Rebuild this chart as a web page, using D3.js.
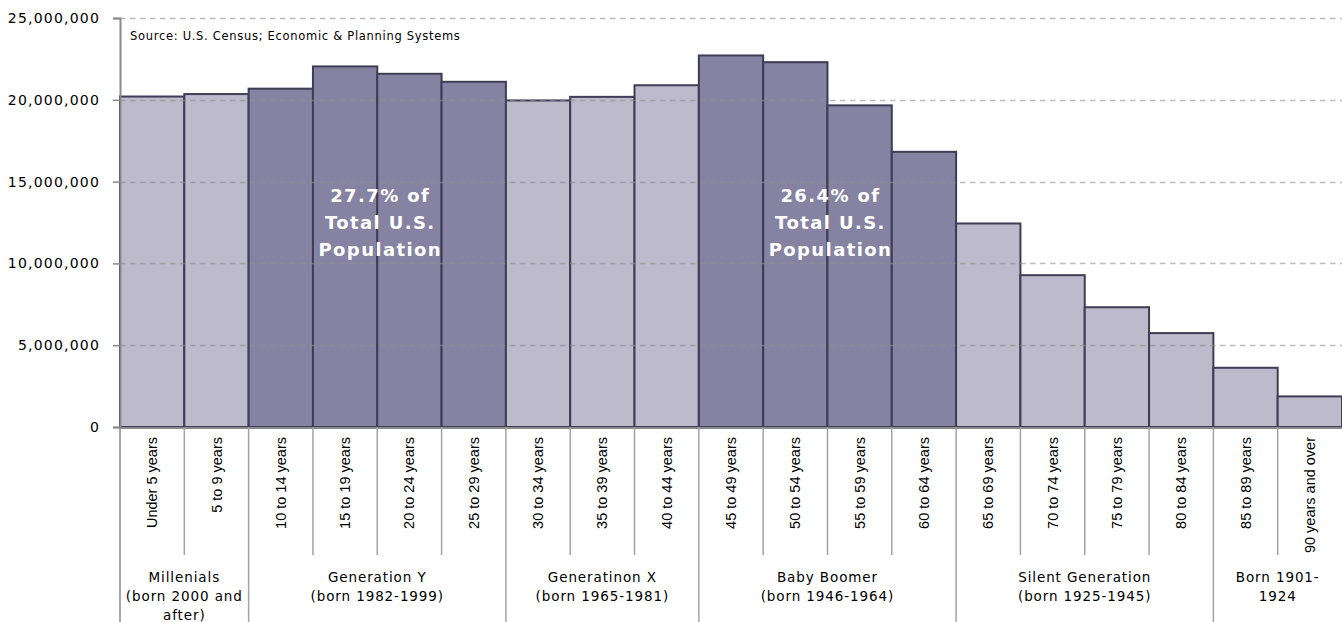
<!DOCTYPE html>
<html>
<head>
<meta charset="utf-8">
<script src="https://cdn.jsdelivr.net/npm/d3@7"></script>
<style>
  body { margin: 0; background: #fff; }
  svg { display: block; }
</style>
</head>
<body>
<svg></svg>
<script>
const svgWidth = 1342
const svgHeight = 622
const margins = { top: 18, left: 120, right: 0 }
const axisY = 427 // zero line

// age groups and population (US Census 2010)
const ageGroups = ["Under 5 years", "5 to 9 years", "10 to 14 years", "15 to 19 years", "20 to 24 years",
    "25 to 29 years", "30 to 34 years", "35 to 39 years", "40 to 44 years", "45 to 49 years",
    "50 to 54 years", "55 to 59 years", "60 to 64 years", "65 to 69 years", "70 to 74 years",
    "75 to 79 years", "80 to 84 years", "85 to 89 years", "90 years and over"]
const population = [20200000, 20350000, 20680000, 22040000, 21590000, 21100000, 19960000, 20180000,
    20890000, 22710000, 22300000, 19660000, 16820000, 12440000, 9280000, 7320000, 5740000,
    3620000, 1870000]
const highlighted = ["10 to 14 years", "15 to 19 years", "20 to 24 years", "25 to 29 years",
    "45 to 49 years", "50 to 54 years", "55 to 59 years", "60 to 64 years"]

// generations: label lines, first and last age group
const generationNames = [
    ["Millenials", "(born 2000 and", "after)"],
    ["Generation Y", "(born 1982-1999)"],
    ["Generatinon X", "(born 1965-1981)"],
    ["Baby Boomer", "(born 1946-1964)"],
    ["Silent Generation", "(born 1925-1945)"],
    ["Born 1901-", "1924"]
]
const generationStart = ["Under 5 years", "10 to 14 years", "30 to 34 years", "45 to 49 years", "65 to 69 years", "85 to 89 years"]
const generationEnd = ["5 to 9 years", "25 to 29 years", "40 to 44 years", "60 to 64 years", "80 to 84 years", "90 years and over"]

// share notes, placed between two age groups
const notes = [["27.7% of", "Total U.S.", "Population"], ["26.4% of", "Total U.S.", "Population"]]
const notesAt = ["20 to 24 years", "55 to 59 years"]

const yTicks = [0, 5000000, 10000000, 15000000, 20000000, 25000000]

const lightFill = "#bdbacc"
const darkFill = "#8683a2"
const barStroke = "#3f3c55"
const axisColor = "#8a8a8a"

const svg = d3.select("svg")
    .attr("width", svgWidth)
    .attr("height", svgHeight)

const xScale = d3.scaleBand()
    .domain(ageGroups)
    .range([margins.left, svgWidth - margins.right])
    .padding(0)

const yScale = d3.scaleLinear()
    .domain([0, 25000000])
    .range([axisY, margins.top])

// bars
svg.append("g")
    .selectAll("rect")
    .data(ageGroups)
    .join("rect")
    .attr("x", (d) => xScale(d))
    .attr("y", (d, i) => yScale(population[i]))
    .attr("width", xScale.bandwidth())
    .attr("height", (d, i) => axisY - yScale(population[i]))
    .attr("fill", (d) => highlighted.includes(d) ? darkFill : lightFill)
    .attr("stroke", barStroke)
    .attr("stroke-width", 2)

// dashed gridlines over the bars
svg.append("g")
    .selectAll("line")
    .data(yTicks.filter((d) => d > 0))
    .join("line")
    .attr("x1", margins.left)
    .attr("x2", svgWidth)
    .attr("y1", (d) => Math.round(yScale(d)) + 0.5)
    .attr("y2", (d) => Math.round(yScale(d)) + 0.5)
    .attr("stroke", "#8e8e8e")
    .attr("stroke-opacity", 0.6)
    .attr("stroke-width", 1.5)
    .attr("stroke-dasharray", "5.5,4.5")

// y axis
const yAxis = svg.append("g")
    .attr("transform", `translate(${margins.left},0)`)
    .call(d3.axisLeft(yScale).tickValues(yTicks).tickSize(7).tickPadding(13)
        .tickFormat(d3.format(",")))
yAxis.select(".domain").attr("stroke", axisColor).attr("stroke-width", 2)
yAxis.selectAll(".tick line").attr("stroke", axisColor).attr("stroke-width", 1.5)
yAxis.selectAll(".tick text")
    .attr("font-family", "'DejaVu Sans', Verdana, sans-serif")
    .attr("font-size", 14)
    .attr("letter-spacing", 1.2)
    .attr("fill", "#000")

// left edge continues under the axis
svg.append("line")
    .attr("x1", margins.left).attr("x2", margins.left)
    .attr("y1", axisY).attr("y2", svgHeight)
    .attr("stroke", axisColor).attr("stroke-width", 1.5)

// bottom axis line
svg.append("line")
    .attr("x1", margins.left).attr("x2", svgWidth)
    .attr("y1", axisY + 1).attr("y2", axisY + 1)
    .attr("stroke", axisColor).attr("stroke-width", 2)

// separators between age groups
svg.append("g")
    .selectAll("line")
    .data(ageGroups.slice(0, -1))
    .join("line")
    .attr("x1", (d) => xScale(d) + xScale.bandwidth())
    .attr("x2", (d) => xScale(d) + xScale.bandwidth())
    .attr("y1", axisY)
    .attr("y2", (d) => generationEnd.includes(d) ? svgHeight : 555)
    .attr("stroke", "#a3a3a3")
    .attr("stroke-width", 1.5)

// rotated age labels
svg.append("g")
    .selectAll("text")
    .data(ageGroups)
    .join("text")
    .attr("transform", (d) => `translate(${xScale(d) + xScale.bandwidth() / 2},437) rotate(-90)`)
    .attr("dy", "0.35em")
    .attr("text-anchor", "end")
    .attr("font-family", "'Liberation Sans Narrow', 'Arial Narrow', sans-serif")
    .attr("font-size", 14.5)
    .attr("fill", "#000")
    .text((d) => d)

// generation labels
const genText = svg.append("g")
    .selectAll("text")
    .data(generationNames)
    .join("text")
    .attr("x", (d, i) => (xScale(generationStart[i]) + xScale(generationEnd[i]) + xScale.bandwidth()) / 2)
    .attr("y", 582)
    .attr("text-anchor", "middle")
    .attr("font-family", "'DejaVu Sans', Verdana, sans-serif")
    .attr("font-size", 13.5)
    .attr("letter-spacing", 0.9)
    .attr("fill", "#000")
genText.selectAll("tspan")
    .data((d) => d)
    .join("tspan")
    .attr("x", function () { return this.parentNode.getAttribute("x") })
    .attr("dy", (d, i) => i === 0 ? 0 : 19)
    .text((d) => d)

// share notes
const noteText = svg.append("g")
    .selectAll("text")
    .data(notes)
    .join("text")
    .attr("x", (d, i) => xScale(notesAt[i]) + 3)
    .attr("y", 202)
    .attr("text-anchor", "middle")
    .attr("font-family", "'DejaVu Sans', Verdana, sans-serif")
    .attr("font-weight", "bold")
    .attr("font-size", 18)
    .attr("letter-spacing", 1.4)
    .attr("fill", "#fff")
noteText.selectAll("tspan")
    .data((d) => d)
    .join("tspan")
    .attr("x", function () { return this.parentNode.getAttribute("x") })
    .attr("dy", (d, i) => i === 0 ? 0 : 27)
    .text((d) => d)

// source
svg.append("text")
    .text("Source: U.S. Census; Economic & Planning Systems")
    .attr("x", 130)
    .attr("y", 40)
    .attr("font-family", "'DejaVu Sans', Verdana, sans-serif")
    .attr("font-size", 11.5)
    .attr("letter-spacing", 0.7)
    .attr("fill", "#000")
</script>
</body>
</html>
